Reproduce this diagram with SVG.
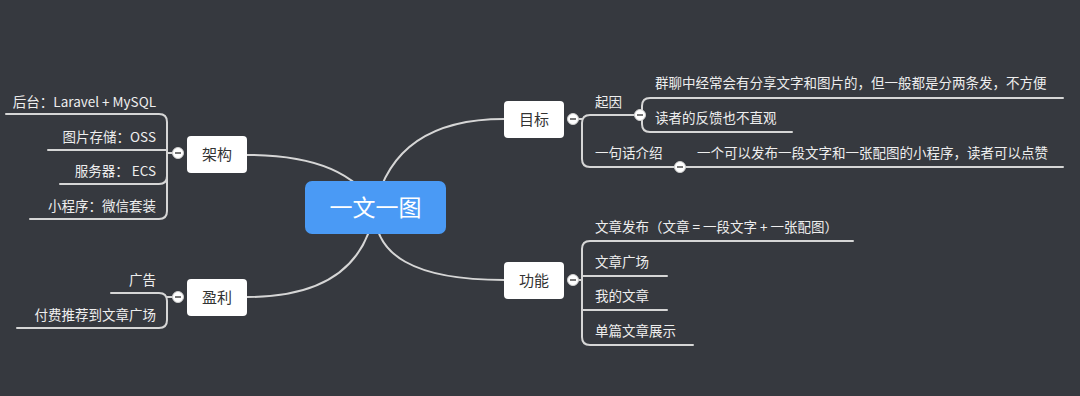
<svg xmlns="http://www.w3.org/2000/svg" width="1080" height="396" viewBox="0 0 1080 396">
<style>
.bg{fill:#36393f}
.ln{fill:none;stroke:#d6d6d6;stroke-width:2;stroke-linecap:round}
.node{fill:#ffffff}
.nt{font-family:"Microsoft YaHei","Noto Sans CJK SC","Noto Sans",sans-serif;font-size:15px;fill:#333333;text-anchor:middle}
.bt{font-family:"Microsoft YaHei","Noto Sans CJK SC","Noto Sans",sans-serif;font-size:13.5px;fill:#eeeeee}
.r{text-anchor:end}
.ct{font-family:"Microsoft YaHei","Noto Sans CJK SC","Noto Sans",sans-serif;font-size:23px;fill:#ffffff;text-anchor:middle}
.cc{fill:#ffffff;stroke:#cfcfcf;stroke-width:1}
.cm{stroke:#555555;stroke-width:1.6}
</style>
<defs>
<g id="collapse"><circle class="cc" r="5.5"/><line class="cm" x1="-3" y1="0" x2="3" y2="0"/></g>
</defs>
<rect class="bg" x="0" y="0" width="1080" height="396"/>
<g id="connectors">
<path class="ln" d="M375,207 Q346,155 247,155"/>
<path class="ln" d="M375,207 Q395,119 504,119"/>
<path class="ln" d="M375,207 Q362,297 247,297"/>
<path class="ln" d="M375,207 Q371,280 504,280"/>
<!-- 架构 -->
<path class="ln" d="M178,153 L167,153"/>
<path class="ln" d="M6,114 H159 Q167,114 167,122 V211 Q167,219 159,219 H30"/>
<path class="ln" d="M48,150 H167"/>
<path class="ln" d="M60,184 H159 Q167,184 167,176"/>
<!-- 盈利 -->
<path class="ln" d="M178,297 L167,297"/>
<path class="ln" d="M111,293 H159 Q167,293 167,301 V320 Q167,328 159,328 H17"/>
<!-- 目标 -->
<path class="ln" d="M573,119 H582"/>
<path class="ln" d="M639,115 H590 Q582,115 582,123 V159 Q582,167 590,167 H1063"/>
<path class="ln" d="M1063,98 H650 Q642,98 642,106 V124 Q642,132 650,132 H792"/>
<!-- 功能 -->
<path class="ln" d="M573,280 H582"/>
<path class="ln" d="M853,241 H590 Q582,241 582,249 V337 Q582,345 590,345 H693"/>
<path class="ln" d="M582,276 H667"/>
<path class="ln" d="M582,310 H667"/>
</g>
<g id="root">
<rect x="305" y="181" width="141" height="53" rx="7" fill="#4a9af5"/>
<text class="ct" x="375.5" y="216">一文一图</text>
</g>
<g id="jiagou">
<rect class="node" x="187" y="136" width="60" height="37" rx="4"/>
<text class="nt" x="217" y="160">架构</text>
<use href="#collapse" x="178" y="153"/>
</g>
<g id="jiagou-items">
<text class="bt r" x="156" y="107">后台：Laravel + MySQL</text>
<text class="bt r" x="156" y="142">图片存储：OSS</text>
<text class="bt r" x="156" y="176">服务器： ECS</text>
<text class="bt r" x="156" y="211">小程序：微信套装</text>
</g>
<g id="yingli">
<rect class="node" x="187" y="279" width="60" height="37" rx="4"/>
<text class="nt" x="217" y="303">盈利</text>
<use href="#collapse" x="178" y="297"/>
</g>
<g id="yingli-items">
<text class="bt r" x="156" y="285">广告</text>
<text class="bt r" x="156" y="320">付费推荐到文章广场</text>
</g>
<g id="mubiao">
<rect class="node" x="504" y="101" width="60" height="37" rx="4"/>
<text class="nt" x="534" y="125">目标</text>
<use href="#collapse" x="573" y="119"/>
</g>
<g id="mubiao-items">
<text class="bt" x="595" y="107">起因</text>
<use href="#collapse" x="640" y="115"/>
<text class="bt" x="655" y="88">群聊中经常会有分享文字和图片的，但一般都是分两条发，不方便</text>
<text class="bt" x="655" y="123">读者的反馈也不直观</text>
<text class="bt" x="595" y="158">一句话介绍</text>
<use href="#collapse" x="680" y="167"/>
<text class="bt" x="697" y="158">一个可以发布一段文字和一张配图的小程序，读者可以点赞</text>
</g>
<g id="gongneng">
<rect class="node" x="504" y="262" width="60" height="37" rx="4"/>
<text class="nt" x="534" y="286">功能</text>
<use href="#collapse" x="573" y="280"/>
</g>
<g id="gongneng-items">
<text class="bt" x="595" y="232">文章发布（文章 = 一段文字 + 一张配图）</text>
<text class="bt" x="595" y="267">文章广场</text>
<text class="bt" x="595" y="301">我的文章</text>
<text class="bt" x="595" y="336">单篇文章展示</text>
</g>
</svg>
